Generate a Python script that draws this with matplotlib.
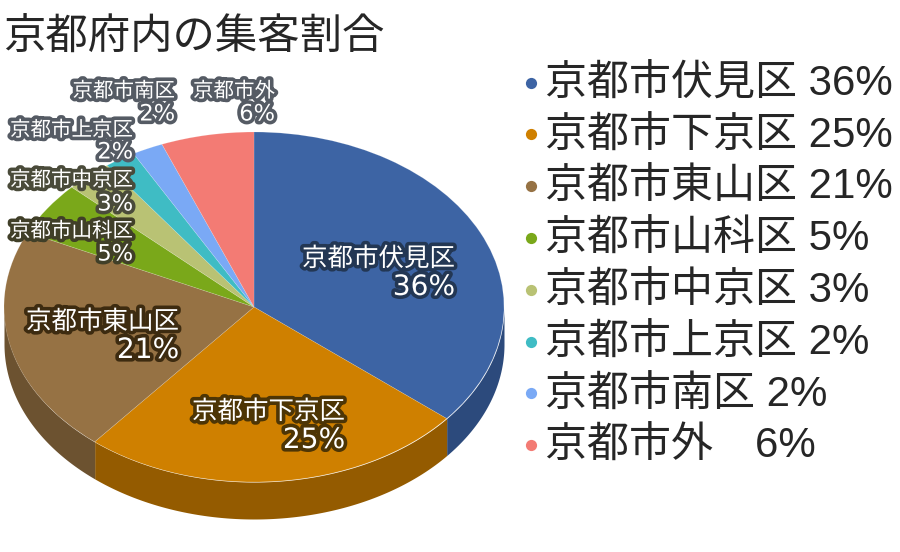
import numpy as np
import matplotlib
matplotlib.use("Agg")
import matplotlib.pyplot as plt
import matplotlib.patheffects as pe

W, H = 900, 552
CJK = "Noto Sans CJK JP"

title = "京都府内の集客割合"
names = ["京都市伏見区", "京都市下京区", "京都市東山区", "京都市山科区",
         "京都市中京区", "京都市上京区", "京都市南区", "京都市外"]
values = [36, 25, 21, 5, 3, 2, 2, 6]
legend_gaps = [" ", " ", " ", " ", " ", " ", " ", "\u3000"]

colors = ["#3d64a4", "#cf8000", "#967244", "#7aa81a",
          "#b9c274", "#3fbcc4", "#7aa9f5", "#f37b74"]
wall_colors = ["#2c4a7c", "#945b00", "#6c5230", "#5a7c13",
               "#8a9156", "#2e8c92", "#5a7eb6", "#b45b56"]
stroke_colors = ["#233754", "#4d3505", "#3d2b10", "#403f28",
                 "#4a4b3a", "#555b64", "#555b64", "#555b64"]

# right edge and vertical centres of each slice label, in pixels
label_x = [455, 345, 179, 133, 133, 133, 175, 275]
name_y = [259, 412, 322, 231, 180, 130, 91, 91]
value_y = [287, 440, 350, 254, 204, 152, 114, 114]
label_px = [25.5, 25.5, 25.5, 20.5, 20.5, 20.5, 20.5, 20.5]


def pt(px):
    return px * 72 / 100


fig = plt.figure(figsize=(W / 100, H / 100), dpi=100)

# pie axes: data -1..1 spans the top ellipse of the pie
cx, cy, rx, ry = 254, 307, 250, 175
depth = 37 / ry
ax = fig.add_axes([(cx - rx) / W, 1 - (cy + ry) / H, 2 * rx / W, 2 * ry / H])

fractions = np.array(values) / sum(values)
edges = 90 - 360 * np.concatenate([[0], np.cumsum(fractions)])

# side wall, only where the rim faces the viewer
for i in range(len(values)):
    lo = np.radians(max(edges[i + 1], -180))
    hi = np.radians(min(edges[i], 0))
    if lo >= hi:
        continue
    t = np.linspace(hi, lo, 120)
    ax.fill_between(np.cos(t), np.sin(t) - depth, np.sin(t), color=wall_colors[i],
                    lw=0, clip_on=False, zorder=1)

wedges, _ = ax.pie(values, colors=colors, startangle=90, counterclock=False, radius=1,
                   wedgeprops={"linewidth": 0.5, "edgecolor": "#ffffff30"})
for w in wedges:
    w.set_zorder(2)
    w.set_clip_on(False)
ax.set_aspect("auto")
ax.set_xlim(-1, 1)
ax.set_ylim(-1, 1)
ax.axis("off")

# overlay in pixel coordinates for all the text
ov = fig.add_axes([0, 0, 1, 1], facecolor="none")
ov.set_xlim(0, W)
ov.set_ylim(H, 0)
ov.axis("off")

ov.text(3, 38, title, fontsize=pt(42.4), family=[CJK], color="#262626", ha="left", va="center")

for i, name in enumerate(names):
    stroke = [pe.withStroke(linewidth=5.2, foreground=stroke_colors[i])]
    ov.text(label_x[i], name_y[i], name, fontsize=pt(label_px[i]), family=[CJK],
            color="white", ha="right", va="center", path_effects=stroke)
    ov.text(label_x[i], value_y[i], f"{values[i]}%", fontsize=pt(label_px[i] * 1.1),
            family=["DejaVu Sans"], color="white", ha="right", va="center", path_effects=stroke)

# legend
for i, name in enumerate(names):
    y = 84.5 + 51.8 * i
    ov.scatter([531], [y - 2], s=65, color=colors[i], lw=0)
    ov.text(545, y, f"{name}{legend_gaps[i]}{values[i]}%", fontsize=pt(42),
            family=["Liberation Sans", CJK], color="#262626", ha="left", va="center")

fig.savefig("out.png", dpi=100)
